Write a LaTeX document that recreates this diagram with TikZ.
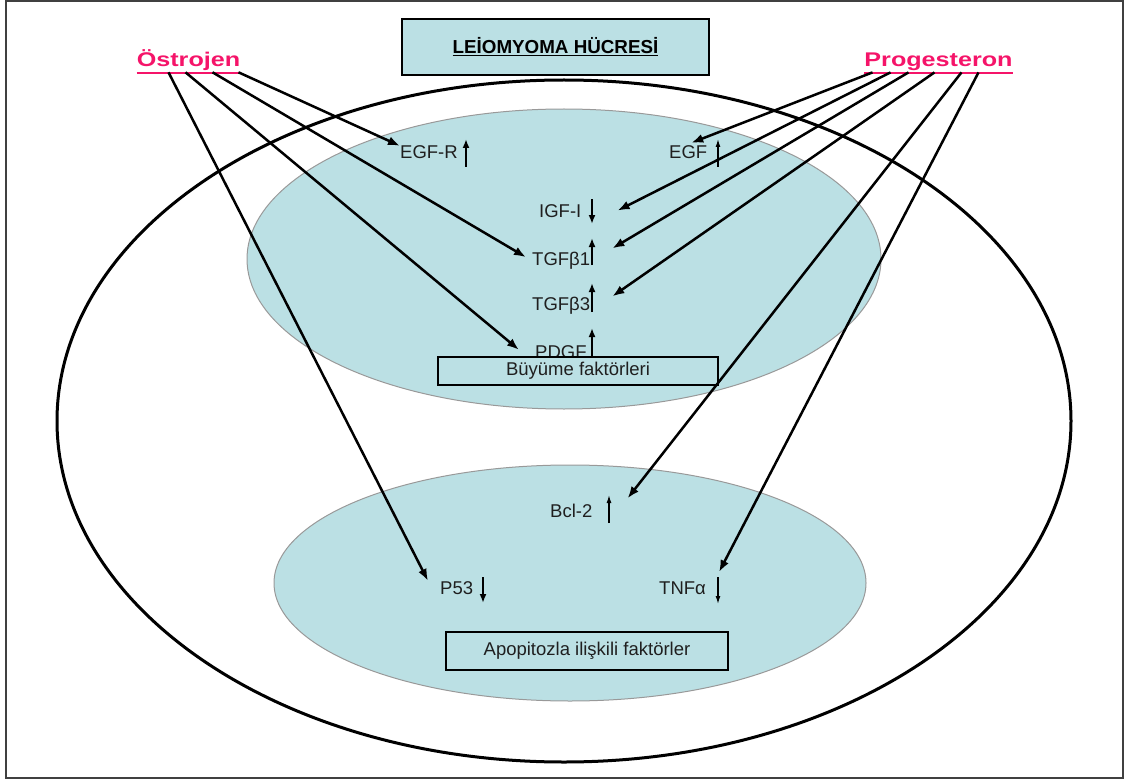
\documentclass[tikz,border=0pt]{standalone}
\usepackage{fontspec}
\setmainfont{Liberation Sans}
\usepackage{graphicx}
\usetikzlibrary{positioning,shapes,arrows,arrows.meta}
\definecolor{cellblue}{RGB}{187,224,228}
\definecolor{hormonepink}{RGB}{245,20,105}

\begin{document}
\begin{tikzpicture}[
  x=1pt, y=-1pt,
  lbl/.style={font=\fontsize{18.5}{22}\selectfont, text=black!88, inner sep=0pt, anchor=base west},
  hormone/.style={font=\fontsize{19.8}{23}\selectfont\bfseries, text=hormonepink, inner sep=0pt, anchor=base},
  hline/.style={hormonepink, line width=2pt},
  factorbox/.style={draw, fill=cellblue, line width=1.2pt, font=\fontsize{18.5}{22}\selectfont, text=black!88, inner sep=0pt},
  cause/.style={-{Latex[length=12pt,width=9pt]}, line width=2.5pt},
  upthick/.style={-{Latex[length=9pt,width=7pt]}, line width=2.4pt},
  upthin/.style={-{Latex[length=8pt,width=5pt]}, line width=1.3pt}
]
\useasboundingbox (0,0) rectangle (1125,781);
\draw[line width=2pt, black!75] (6,1) rectangle (1123,778);

% cell and its two compartments
\draw[line width=3pt] (564,421) ellipse [x radius=507, y radius=341];
\draw[fill=cellblue, draw=black!40, line width=1pt] (564,259) ellipse [x radius=317, y radius=150];
\draw[fill=cellblue, draw=black!40, line width=1pt] (570,583) ellipse [x radius=296, y radius=118];

% title and hormones
\node[factorbox, line width=1.6pt, text=black, minimum width=307, minimum height=56] (title) at (555.5,47)
  {\fontsize{18.8}{22}\selectfont\bfseries\underline{LEİOMYOMA HÜCRESİ}};
\node[hormone] (ostro) at (188.5,67) {\scalebox{1.27}[1]{Östrojen}};
\node[hormone] (prog) at (938.5,67) {\scalebox{1.27}[1]{Progesteron}};
\draw[hline] ([yshift=-1.5pt]ostro.south west) -- ([yshift=-1.5pt]ostro.south east);
\draw[hline] ([yshift=-1.5pt]prog.south west) -- ([yshift=-1.5pt]prog.south east);

% growth factors
\node[lbl] (egfr) at (400,159) {EGF-R};
\node[lbl] (egf) at (669,159) {EGF};
\node[lbl] (igf) at (539,217) {IGF-I};
\node[lbl] (tgfb1) at (532,265) {TGFβ1};
\node[lbl] (tgfb3) at (532,310) {TGFβ3};
\node[lbl] (pdgf) at (535,358) {PDGF};
\node[factorbox, minimum width=280, minimum height=28] (growth) at (578,371) {Büyüme faktörleri};

% apoptosis factors
\node[lbl] (bcl) at (550,517) {Bcl-2};
\node[lbl] (p53) at (440,594) {P53};
\node[lbl] (tnf) at (659,594) {TNFα};
\node[factorbox, minimum width=282, minimum height=38] (apop) at (587,651) {Apopitozla ilişkili faktörler};

% up / down marks
\draw[upthick] (466,167) -- (466,139);
\draw[upthin] (718,167) -- (718,139);
\draw[upthick] (592,199) -- (592,224);
\draw[upthick] (592,265) -- (592,238);
\draw[upthick] (592,312) -- (592,283);
\draw[upthick] (592,357) -- (592,328);
\draw[upthin] (609,523) -- (609,495);
\draw[upthick] (483,577) -- (483,603);
\draw[upthin] (718,577) -- (718,604);

% estrogen effects
\draw[cause] ([xshift=50pt,yshift=-1pt]ostro.south) -- (egfr.north west);
\draw[cause] ([xshift=24pt,yshift=-1pt]ostro.south) -- ([xshift=-6pt,yshift=3pt]tgfb1.west);
\draw[cause] ([xshift=-3pt,yshift=-1pt]ostro.south) -- ([xshift=-16pt,yshift=-5pt]pdgf.north west);
\draw[cause] ([xshift=-20pt,yshift=-1pt]ostro.south) -- ([xshift=-12pt]p53.north west);

% progesterone effects
\draw[cause] ([xshift=-66pt,yshift=-1pt]prog.south) -- ([xshift=3pt,yshift=3pt]egf.north);
\draw[cause] ([xshift=-48pt,yshift=-1pt]prog.south) -- ([xshift=36pt]igf.east);
\draw[cause] ([xshift=-30pt,yshift=-1pt]prog.south) -- ([xshift=22pt,yshift=3pt]tgfb1.north east);
\draw[cause] ([xshift=-4pt,yshift=-1pt]prog.south) -- ([xshift=22pt]tgfb3.north east);
\draw[cause] ([xshift=23pt,yshift=-1pt]prog.south) -- ([xshift=35pt,yshift=5pt]bcl.north east);
\draw[cause] ([xshift=40pt,yshift=-1pt]prog.south) -- ([xshift=13pt,yshift=9pt]tnf.north east);
\end{tikzpicture}
\end{document}
